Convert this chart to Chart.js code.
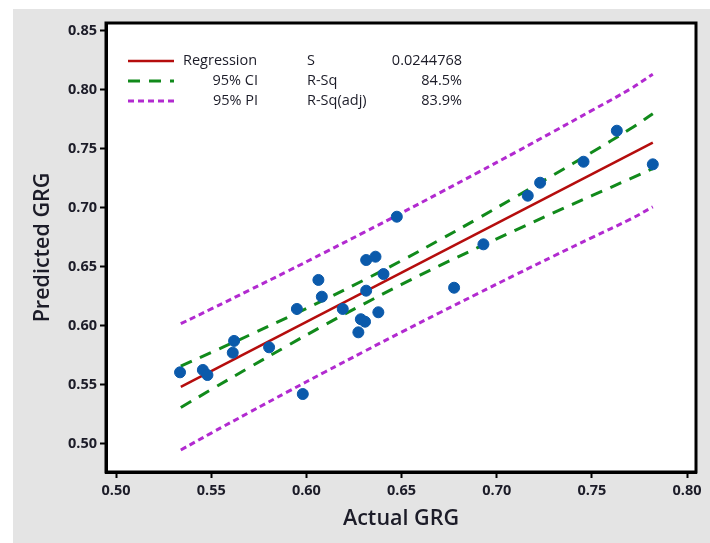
<!DOCTYPE html>
<html>
<head>
<meta charset="utf-8">
<script src="https://cdn.jsdelivr.net/npm/chart.js@4.4.0/dist/chart.umd.min.js"></script>
<style>
  html, body { margin: 0; padding: 0; background: #ffffff; }
  #wrap { width: 710px; height: 543px; }
</style>
</head>
<body>
<div id="wrap"><canvas id="c" width="710" height="543"></canvas></div>
<script>
// ---- data ----
const actualGRG = [0.5336, 0.5456, 0.5480, 0.5620, 0.5613, 0.5804, 0.5981, 0.5950, 0.6063, 0.6081,
                   0.6191, 0.6273, 0.6286, 0.6308, 0.6378, 0.6314, 0.6363, 0.6314, 0.6405, 0.6475,
                   0.6930, 0.6776, 0.7163, 0.7228, 0.7456, 0.7631, 0.7820];
const predictedGRG = [0.5603, 0.5623, 0.5580, 0.5869, 0.5769, 0.5815, 0.5419, 0.6140, 0.6386, 0.6244,
                      0.6140, 0.5942, 0.6053, 0.6032, 0.6112, 0.6555, 0.6583, 0.6295, 0.6436, 0.6922,
                      0.6688, 0.6320, 0.7100, 0.7210, 0.7388, 0.7651, 0.7366];

const regX = [0.534, 0.782];
const regY = [0.548, 0.755];

const bandX   = [0.534, 0.55, 0.57, 0.59, 0.61, 0.63, 0.65, 0.67, 0.69, 0.71, 0.73, 0.75, 0.77, 0.782];
const ciUpper = [0.5655, 0.5771, 0.5918, 0.6068, 0.6222, 0.6383, 0.6550, 0.6725, 0.6906, 0.7091, 0.7278, 0.7468, 0.7665, 0.7795];
const ciLower = [0.5305, 0.5457, 0.5644, 0.5828, 0.6008, 0.6181, 0.6348, 0.6507, 0.6660, 0.6809, 0.6956, 0.7100, 0.7243, 0.7330];
const piUpper = [0.6015, 0.6140, 0.6299, 0.6459, 0.6622, 0.6787, 0.6954, 0.7124, 0.7296, 0.7469, 0.7645, 0.7823, 0.8003, 0.8130];
const piLower = [0.4945, 0.5088, 0.5263, 0.5437, 0.5608, 0.5777, 0.5944, 0.6108, 0.6270, 0.6431, 0.6589, 0.6745, 0.6899, 0.7005];

const xTicks = [0.50, 0.55, 0.60, 0.65, 0.70, 0.75, 0.80];
const yTicks = [0.50, 0.55, 0.60, 0.65, 0.70, 0.75, 0.80, 0.85];

const legendLabels = ['Regression', '95% CI', '95% PI'];
const statNames = ['S', 'R-Sq', 'R-Sq(adj)'];
const statValues = ['0.0244768', '84.5%', '83.9%'];

// ---- build ----
const zip = (xs, ys) => xs.map((x, i) => ({ x: x, y: ys[i] }));

const RED = '#b50d0d', GREEN = '#118a1b', PURPLE = '#b22ad0', BLUE = '#0b5aab';
const TXT = '#1c1c28';

const bgPlugin = {
  id: 'bg',
  beforeDraw(chart) {
    const ctx = chart.ctx;
    ctx.save();
    ctx.fillStyle = '#ffffff';
    ctx.fillRect(0, 0, chart.width, chart.height);
    ctx.fillStyle = '#e4e4e4';
    ctx.fillRect(13, 9, chart.width - 13, chart.height - 9);
    const a = chart.chartArea;
    ctx.fillStyle = '#ffffff';
    ctx.fillRect(a.left, a.top, a.right - a.left, a.bottom - a.top);
    ctx.restore();
  },
  afterDraw(chart) {
    const ctx = chart.ctx;
    const a = chart.chartArea;
    ctx.save();
    ctx.strokeStyle = '#000000';
    ctx.lineWidth = 3;
    ctx.strokeRect(a.left, a.top, a.right - a.left, a.bottom - a.top);

    // legend / stats box
    const rows = [61, 81, 101];
    const styles = [
      { c: RED, d: [], w: 2.5 },
      { c: GREEN, d: [12, 9], w: 3 },
      { c: PURPLE, d: [6, 4], w: 3 }
    ];
    ctx.font = '14.5px "Open Sans", "Noto Sans", sans-serif';
    ctx.textBaseline = 'middle';
    ctx.fillStyle = TXT;
    rows.forEach((y, i) => {
      ctx.beginPath();
      ctx.strokeStyle = styles[i].c;
      ctx.lineWidth = styles[i].w;
      ctx.setLineDash(styles[i].d);
      ctx.moveTo(128, y);
      ctx.lineTo(174, y);
      ctx.stroke();
      ctx.setLineDash([]);
      ctx.fillStyle = TXT;
      if (i === 0) { ctx.textAlign = 'left'; ctx.fillText(legendLabels[i], 183, y); }
      else { ctx.textAlign = 'right'; ctx.fillText(legendLabels[i], 258, y); }
      ctx.textAlign = 'left';
      ctx.fillText(statNames[i], 307, y);
      ctx.textAlign = 'right';
      ctx.fillText(statValues[i], 462, y);
    });
    ctx.restore();
  }
};

const tickFont = { family: '"Open Sans", "Noto Sans", sans-serif', size: 14.5, weight: 'bold' };
const titleFont = { family: '"Open Sans", "Noto Sans", sans-serif', size: 21.5, weight: '600', lineHeight: 1.2 };

new Chart(document.getElementById('c'), {
  type: 'scatter',
  data: {
    datasets: [
      { label: 'Data', data: zip(actualGRG, predictedGRG), backgroundColor: BLUE, borderColor: BLUE,
        pointRadius: 5.5, pointHoverRadius: 5.5, showLine: false },
      { label: 'Regression', data: zip(regX, regY), showLine: true, borderColor: RED, borderWidth: 2.5,
        pointRadius: 0, fill: false },
      { label: 'CI upper', data: zip(bandX, ciUpper), showLine: true, borderColor: GREEN, borderWidth: 3,
        borderDash: [12, 9], pointRadius: 0, tension: 0.4, fill: false },
      { label: 'CI lower', data: zip(bandX, ciLower), showLine: true, borderColor: GREEN, borderWidth: 3,
        borderDash: [12, 9], pointRadius: 0, tension: 0.4, fill: false },
      { label: 'PI upper', data: zip(bandX, piUpper), showLine: true, borderColor: PURPLE, borderWidth: 3,
        borderDash: [6, 4], pointRadius: 0, tension: 0.4, fill: false },
      { label: 'PI lower', data: zip(bandX, piLower), showLine: true, borderColor: PURPLE, borderWidth: 3,
        borderDash: [6, 4], pointRadius: 0, tension: 0.4, fill: false }
    ]
  },
  options: {
    responsive: false,
    animation: false,
    events: [],
    layout: { padding: { left: 0, right: 14, top: 23, bottom: 0 } },
    plugins: { legend: { display: false }, tooltip: { enabled: false } },
    scales: {
      x: {
        type: 'linear',
        min: 0.4947, max: 0.8047,
        afterBuildTicks: s => { s.ticks = xTicks.map(v => ({ value: v })); },
        afterFit: s => { s.height = 71; },
        grid: { drawOnChartArea: false, drawTicks: true, tickLength: 6, tickWidth: 2, tickColor: '#000' },
        border: { display: true, color: '#000', width: 3 },
        ticks: { font: tickFont, color: TXT, padding: 4, maxRotation: 0, callback: v => Number(v).toFixed(2) },
        title: { display: true, text: 'Actual GRG', font: titleFont, color: TXT, padding: { top: 0, bottom: 11 } }
      },
      y: {
        type: 'linear',
        min: 0.4758, max: 0.8564,
        afterBuildTicks: s => { s.ticks = yTicks.map(v => ({ value: v })); },
        afterFit: s => { s.width = 106; },
        grid: { drawOnChartArea: false, drawTicks: true, tickLength: 6, tickWidth: 2, tickColor: '#000' },
        border: { display: true, color: '#000', width: 3 },
        ticks: { font: tickFont, color: TXT, padding: 3, callback: v => Number(v).toFixed(2) },
        title: { display: true, text: 'Predicted GRG', font: titleFont, color: TXT, padding: { top: 30, bottom: 0 } }
      }
    }
  },
  plugins: [bgPlugin]
});
</script>
</body>
</html>
